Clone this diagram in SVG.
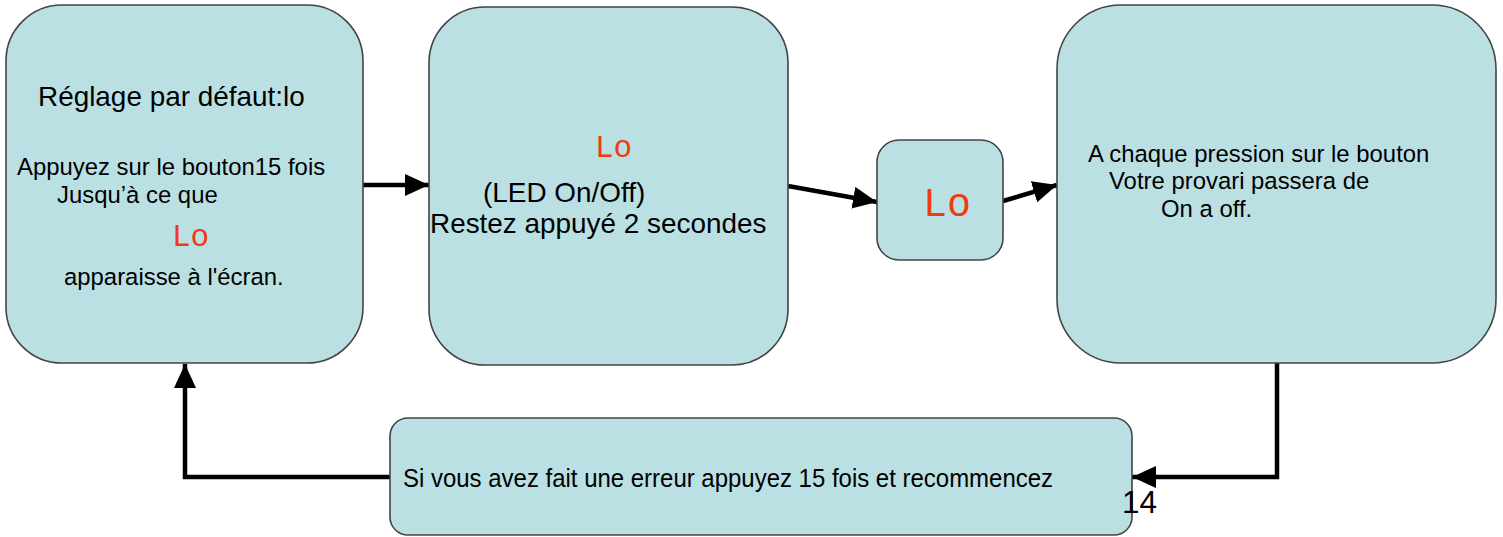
<svg xmlns="http://www.w3.org/2000/svg" width="1503" height="537" viewBox="0 0 1503 537">
<defs>
<marker id="ah" viewBox="0 0 24 22" refX="24" refY="11" markerWidth="24" markerHeight="22" markerUnits="userSpaceOnUse" orient="auto">
<path d="M0,0 L24,11 L0,22 z" fill="#000"/>
</marker>
</defs>
<style>
.box{fill:#bbe0e4;stroke:#444;stroke-width:1.6}
.t{font-family:"Liberation Sans",Arial,sans-serif;fill:#000}
.lo{font-family:"Liberation Mono","Courier New",monospace;fill:#f23a12}
.c{fill:none;stroke:#000;stroke-width:4.5}
</style>
<rect width="1503" height="537" fill="#fff"/>
<g id="connectors">
<line class="c" x1="363" y1="185" x2="429" y2="185" marker-end="url(#ah)"/>
<line class="c" x1="788" y1="186" x2="877" y2="202" marker-end="url(#ah)"/>
<line class="c" x1="1003" y1="201" x2="1057" y2="185" marker-end="url(#ah)"/>
<polyline class="c" points="1277,363 1277,477 1132,477" marker-end="url(#ah)"/>
<polyline class="c" points="390,477 185,477 185,364" marker-end="url(#ah)"/>
</g>
<g id="node1">
<rect class="box" x="6" y="5" width="357" height="358" rx="56" ry="56"/>
<text class="t" x="38" y="106" font-size="27.9">Réglage par défaut:lo</text>
<text class="t" x="17" y="175" font-size="23.9">Appuyez sur le bouton15 fois</text>
<text class="t" x="57" y="203" font-size="23.9">Jusqu’à ce que</text>
<text class="lo" x="172" y="246" font-size="31">Lo</text>
<text class="t" x="64" y="285" font-size="23.9">apparaisse à l'écran.</text>
</g>
<g id="node2">
<rect class="box" x="429" y="7" width="359" height="358" rx="56" ry="56"/>
<text class="lo" x="595" y="157" font-size="31">Lo</text>
<text class="t" x="483" y="202" font-size="27.9">(LED On/Off)</text>
<text class="t" x="430" y="233" font-size="27.9">Restez appuyé 2 secondes</text>
</g>
<g id="node3">
<rect class="box" x="877" y="140" width="126" height="120" rx="22" ry="22"/>
<text class="lo" x="923" y="216" font-size="40">Lo</text>
</g>
<g id="node4">
<rect class="box" x="1057" y="5" width="439" height="358" rx="64" ry="64"/>
<text class="t" x="1088" y="162" font-size="23.9">A chaque pression sur le bouton</text>
<text class="t" x="1109" y="189" font-size="23.9">Votre provari passera de</text>
<text class="t" x="1161" y="217" font-size="23.9">On a off.</text>
</g>
<g id="node5">
<rect class="box" x="390" y="418" width="742" height="117" rx="18" ry="18"/>
<text class="t" x="403" y="487" font-size="25" textLength="650" lengthAdjust="spacingAndGlyphs">Si vous avez fait une erreur appuyez 15 fois et recommencez</text>
</g>
<text class="t" x="1122" y="513" font-size="32" textLength="35" lengthAdjust="spacingAndGlyphs">14</text>
</svg>
